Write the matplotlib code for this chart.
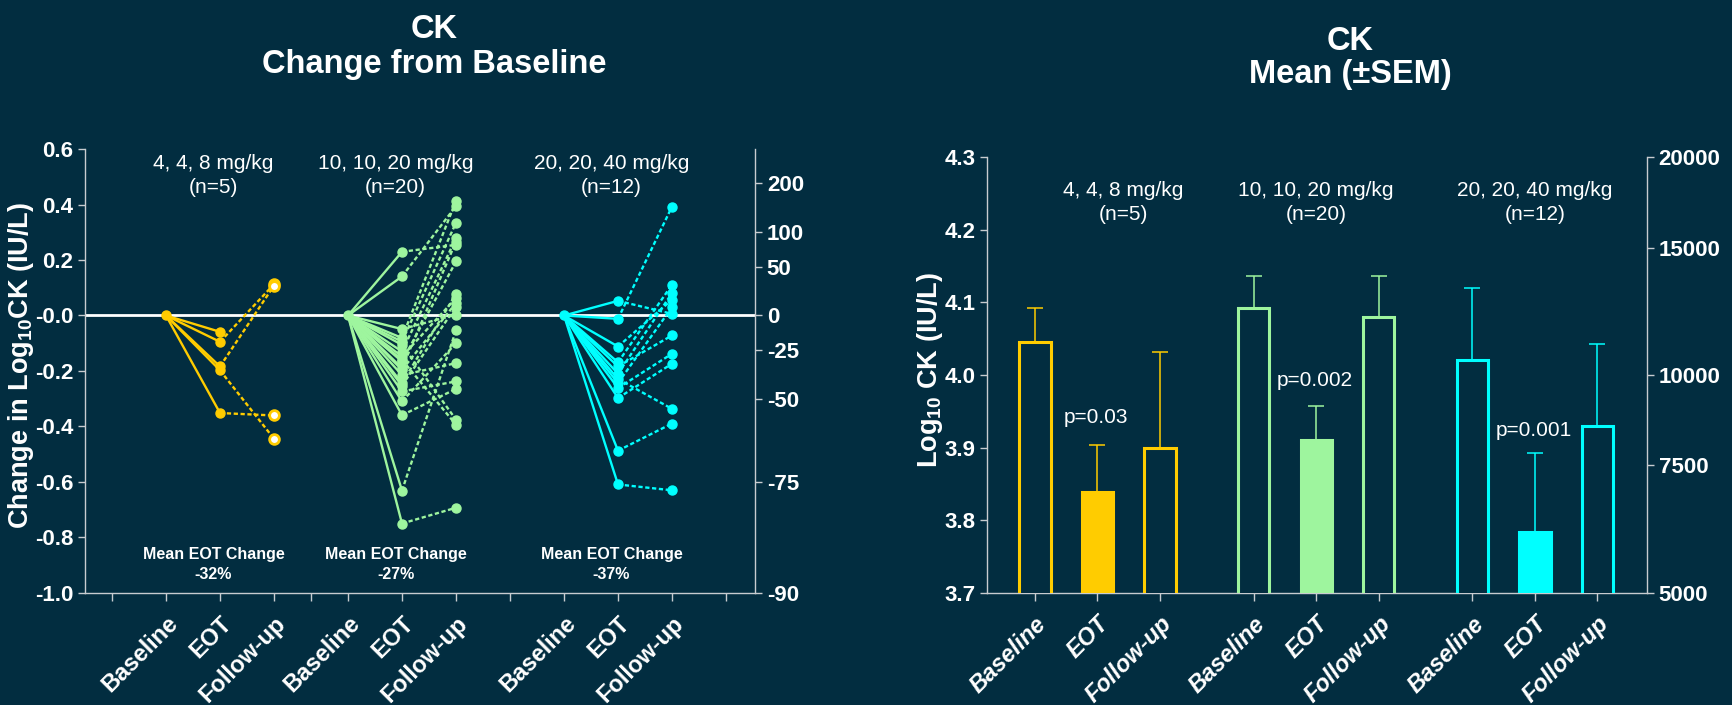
import numpy as np
import matplotlib
matplotlib.use("Agg")
import matplotlib.pyplot as plt

plt.rcParams["font.family"] = ["Liberation Sans", "DejaVu Sans"]
plt.rcParams["font.weight"] = "bold"
plt.rcParams["mathtext.fontset"] = "custom"
plt.rcParams["mathtext.rm"] = "Liberation Sans:bold"
plt.rcParams["mathtext.bf"] = "Liberation Sans:bold"
plt.rcParams["mathtext.it"] = "Liberation Sans:italic:bold"

BG = "#022d40"
SPINE = "#c8ccd0"
COLORS = ["#ffcc00", "#9ef59e", "#00ffff"]

# ---------------- data ----------------
dose_labels = ["4, 4, 8 mg/kg", "10, 10, 20 mg/kg", "20, 20, 40 mg/kg"]
n_labels = ["(n=5)", "(n=20)", "(n=12)"]
visits = ["Baseline", "EOT", "Follow-up"]
mean_eot_change = ["-32%", "-27%", "-37%"]

# per-patient change from baseline in log10 CK (EOT, follow-up)
eot_low = [-0.059, -0.095, -0.184, -0.198, -0.352]
fu_low = [np.nan, 0.113, 0.108, -0.445, -0.361]

eot_mid = [0.230, 0.141, -0.049, -0.081, -0.094, -0.106, -0.130, -0.148, -0.160, -0.166,
           -0.190, -0.196, -0.215, -0.244, -0.253, -0.274, -0.310, -0.360, -0.632, -0.751]
fu_mid = [0.255, 0.395, 0.003, 0.414, 0.335, -0.376, 0.279, 0.063, -0.394, 0.195,
          0.267, 0.045, -0.172, 0.078, 0.032, -0.238, -0.100, -0.265, -0.054, -0.694]

eot_high = [0.053, -0.012, -0.112, -0.169, -0.184, -0.210, -0.229, -0.244, -0.262, -0.298,
            -0.488, -0.610]
fu_high = [0.006, 0.393, 0.057, 0.111, -0.072, 0.081, -0.337, 0.030, -0.138, -0.174,
           -0.390, -0.631]

# log10 CK mean and SEM at Baseline, EOT, Follow-up
mean_low = [4.046, 3.839, 3.900]
sem_low = [0.046, 0.065, 0.132]
mean_mid = [4.093, 3.910, 4.080]
sem_mid = [0.044, 0.048, 0.057]
mean_high = [4.021, 3.784, 3.930]
sem_high = [0.099, 0.108, 0.113]
p_values = ["p=0.03", "p=0.002", "p=0.001"]

left_ticks = [-1.0, -0.8, -0.6, -0.4, -0.2, 0.0, 0.2, 0.4, 0.6]
left_ticklabels = ["-1.0", "-0.8", "-0.6", "-0.4", "-0.2", "-0.0", "0.2", "0.4", "0.6"]
pct_ticks = [200, 100, 50, 0, -25, -50, -75, -90]
log_ticks = [3.7, 3.8, 3.9, 4.0, 4.1, 4.2, 4.3]
ck_ticks = [5000, 7500, 10000, 15000, 20000]

eots = [eot_low, eot_mid, eot_high]
fus = [fu_low, fu_mid, fu_high]
means = [mean_low, mean_mid, mean_high]
sems = [sem_low, sem_mid, sem_high]

# ---------------- layout ----------------
fig = plt.figure(figsize=(17.32, 7.05), dpi=100, facecolor=BG)

start_left = [0.0, 3.37, 7.37]
extra_ticks_left = [-1.0, 2.68, 6.37, 10.37]
start_right = [0.0, 3.5, 7.0]


def style_axis(ax):
    ax.set_facecolor("none")
    for s in ax.spines.values():
        s.set_color(SPINE)
        s.set_linewidth(1.0)
    ax.tick_params(colors=SPINE, labelcolor="white", width=1.0, length=5,
                   direction="out", labelsize=16)


# ---------------- left panel: change from baseline ----------------
ax1 = fig.add_axes([0.04908, 0.15957, 0.38683, 0.62866])
style_axis(ax1)
ax1.set_facecolor(BG)
ax1.spines["top"].set_visible(False)
ax1.spines["right"].set_visible(False)
ax1.set_xlim(-1.5, 10.907)
ax1.set_ylim(-1.0, 0.6)
ax1.axhline(0, color="white", lw=2.0, zorder=1)

dash = (0, (1.8, 1.1))
for g in range(3):
    x0 = start_left[g]
    c = COLORS[g]
    for e, f in zip(eots[g], fus[g]):
        ax1.plot([x0, x0 + 1], [0, e], "-", color=c, lw=1.7, zorder=3,
                 solid_capstyle="round")
        if not np.isnan(f):
            ax1.plot([x0 + 1, x0 + 2], [e, f], linestyle=dash, color=c, lw=1.7, zorder=3)
    ax1.plot([x0], [0], "o", color=c, ms=6.5, zorder=5)
    ax1.plot([x0 + 1] * len(eots[g]), eots[g], "o", color=c, ms=6.5, zorder=5, lw=0)
    f_arr = np.array(fus[g], dtype=float)
    ok = ~np.isnan(f_arr)
    if g == 0:
        ax1.plot(np.full(ok.sum(), x0 + 2), f_arr[ok], "o", mfc="white", mec=c,
                 mew=2.0, ms=7, zorder=5, lw=0)
    else:
        ax1.plot(np.full(ok.sum(), x0 + 2), f_arr[ok], "o", color=c, ms=6.5,
                 zorder=5, lw=0)

    ax1.text(x0 + 0.88, 0.548, dose_labels[g], ha="center", va="center",
             color="white", fontsize=15, fontweight="normal")
    ax1.text(x0 + 0.88, 0.462, n_labels[g], ha="center", va="center",
             color="white", fontsize=15, fontweight="normal")
    ax1.text(x0 + 0.88, -0.862, "Mean EOT Change", ha="center", va="center",
             color="white", fontsize=11.5, fontweight="bold")
    ax1.text(x0 + 0.88, -0.934, mean_eot_change[g], ha="center", va="center",
             color="white", fontsize=11.5, fontweight="bold")

xt = [s + k for s in start_left for k in range(3)]
ax1.set_xticks(xt)
ax1.set_xticklabels(visits * 3, rotation=45, ha="right", va="top",
                    rotation_mode="anchor", fontsize=17, fontweight="bold")
ax1.set_xticks(extra_ticks_left, minor=True)
ax1.tick_params(axis="x", which="both", length=6, width=1.0, colors=SPINE,
                labelcolor="white", pad=8)
ax1.set_yticks(left_ticks)
ax1.set_yticklabels(left_ticklabels, fontweight="bold")

ax1r = ax1.twinx()
style_axis(ax1r)
for s in ["left", "top", "bottom"]:
    ax1r.spines[s].set_visible(False)
ax1r.set_ylim(-1.0, 0.6)
ax1r.set_yticks(np.log10(1 + np.array(pct_ticks) / 100.0))
ax1r.set_yticklabels([str(p) for p in pct_ticks], fontweight="bold")

fig.text(0.0122, 0.481, "Change in Log$_{10}$CK (IU/L)", rotation=90, ha="center",
         va="center", color="white", fontsize=19.5, fontweight="bold")

# ---------------- right panel: mean (±SEM) ----------------
ax2 = fig.add_axes([0.5700, 0.15915, 0.3808, 0.61773])
style_axis(ax2)
ax2.set_facecolor(BG)
ax2.spines["top"].set_visible(False)
ax2.spines["right"].set_visible(False)
ax2.set_xlim(-0.762, 9.789)
ax2.set_ylim(3.7, 4.3)

right_label_x = [1.41, 4.5, 8.0]
p_y = [3.941, 3.993, 3.924]
for g in range(3):
    c = COLORS[g]
    pos = start_right[g] + np.arange(3)
    faces = [BG, c, BG]
    ax2.bar(pos, means[g], width=0.5, color=faces, edgecolor=c, linewidth=2.2,
            zorder=3)
    ax2.errorbar(pos, means[g], yerr=[np.zeros(3), sems[g]], fmt="none",
                 ecolor=c, elinewidth=1.1, capsize=5.8, capthick=1.1, zorder=2)
    ax2.text(right_label_x[g], 4.2536, dose_labels[g], ha="center", va="center",
             color="white", fontsize=15, fontweight="normal")
    ax2.text(right_label_x[g], 4.2215, n_labels[g], ha="center", va="center",
             color="white", fontsize=15, fontweight="normal")
    ax2.text(pos[1] - 0.02, p_y[g], p_values[g], ha="center", va="center",
             color="white", fontsize=15, fontweight="normal", zorder=4)

xt2 = [s + k for s in start_right for k in range(3)]
ax2.set_xticks(xt2)
ax2.set_xticklabels(visits * 3, rotation=45, ha="right", va="top",
                    rotation_mode="anchor", fontsize=17, fontweight="bold",
                    fontstyle="italic")
ax2.tick_params(axis="x", length=6, pad=8)
ax2.set_yticks(log_ticks)
ax2.set_yticklabels([f"{v:.1f}" for v in log_ticks], fontweight="bold")

ax2r = ax2.twinx()
style_axis(ax2r)
for s in ["left", "top", "bottom"]:
    ax2r.spines[s].set_visible(False)
ax2r.set_ylim(3.7, 4.3)
ax2r.set_yticks(np.log10(ck_ticks))
ax2r.set_yticklabels([str(v) for v in ck_ticks], fontweight="bold")

fig.text(0.537, 0.475, "Log$_{10}$ CK (IU/L)", rotation=90, ha="center",
         va="center", color="white", fontsize=19.5, fontweight="bold")

# ---------------- titles ----------------
fig.text(0.2506, 1 - 30.0 / 705, "CK", ha="center", va="center", color="white",
         fontsize=23.5, fontweight="bold")
fig.text(0.2506, 1 - 64.0 / 705, "Change from Baseline", ha="center", va="center",
         color="white", fontsize=23.5, fontweight="bold")
fig.text(0.7794, 1 - 42.0 / 705, "CK", ha="center", va="center", color="white",
         fontsize=23.5, fontweight="bold")
fig.text(0.7794, 1 - 75.0 / 705, "Mean (\u00b1SEM)", ha="center", va="center",
         color="white", fontsize=23.5, fontweight="bold")

fig.savefig("out.png", dpi=100, facecolor=BG)
